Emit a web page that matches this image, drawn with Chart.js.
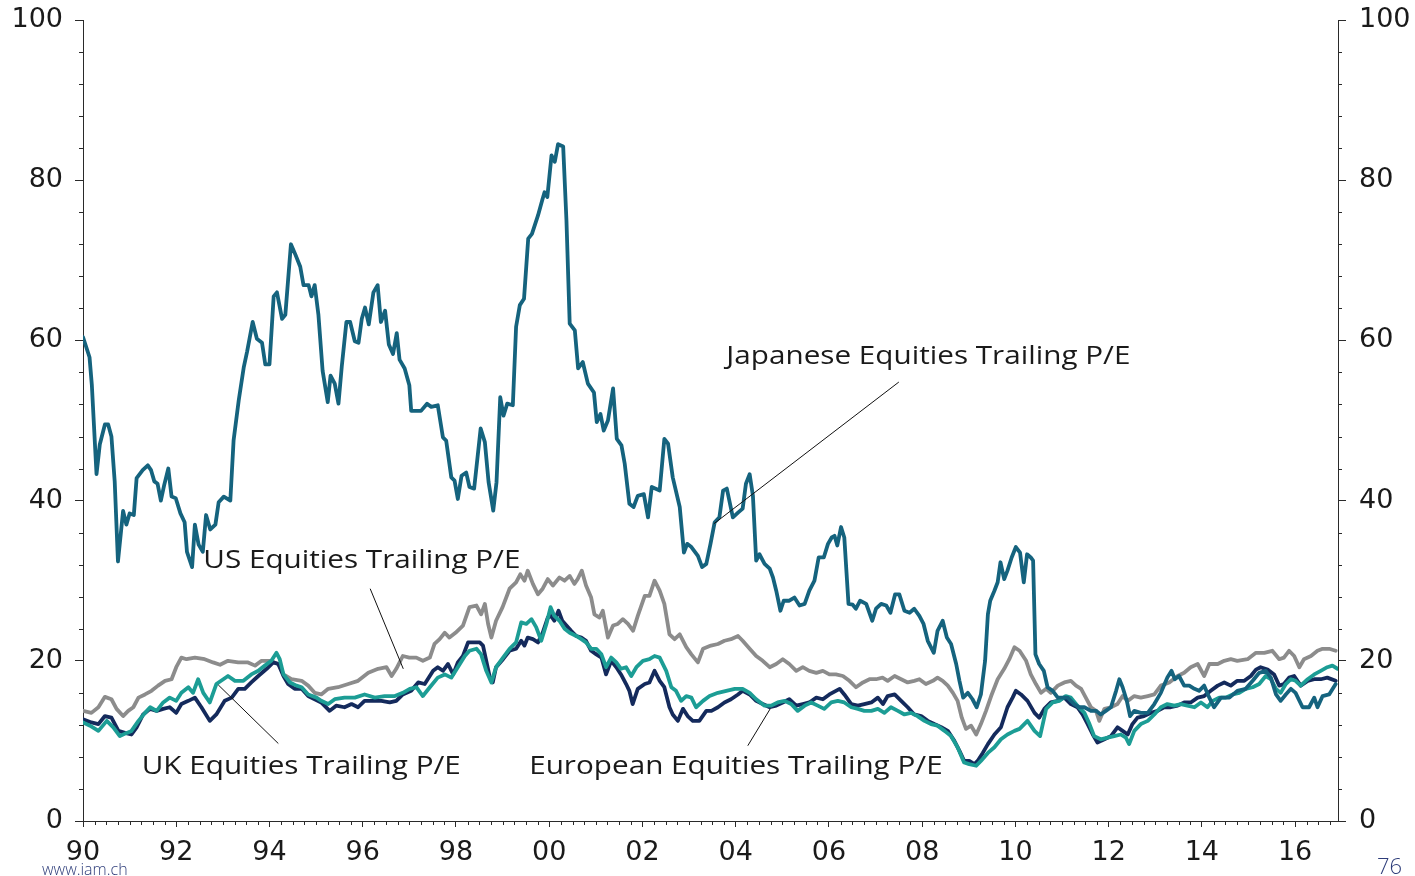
<!DOCTYPE html>
<html><head><meta charset="utf-8">
<script src="https://cdn.jsdelivr.net/npm/chart.js@4.4.1/dist/chart.umd.min.js"></script>
<style>
html,body{margin:0;padding:0;background:#fff;}
#wrap{position:relative;width:1415px;height:876px;overflow:hidden;background:#fff;}
canvas{display:block;}
.foot{position:absolute;font-family:'Open Sans',sans-serif;color:#2e3d7a;white-space:nowrap;}
</style></head><body>
<div id="wrap"><canvas id="c" width="1415" height="876"></canvas>
<div class="foot" style="left:42px;top:858px;font-size:16px;font-weight:300;">www.iam.ch</div>
<div class="foot" style="left:1377px;top:850px;font-size:22px;font-weight:300;">76</div>
</div>
<script>
// ---- data: [year, trailing P/E] ----
const japanPE = [
[1990.00,60.4],[1990.14,57.9],[1990.19,54.4],[1990.29,43.3],[1990.36,47.0],[1990.47,49.5],[1990.54,49.5],[1990.61,48.0],[1990.68,42.4],[1990.75,32.4],
[1990.86,38.7],[1990.93,37.0],[1991.00,38.4],[1991.09,38.2],[1991.15,42.8],[1991.28,43.8],[1991.39,44.4],[1991.46,43.8],[1991.53,42.4],[1991.60,42.1],
[1991.67,40.0],[1991.74,41.9],[1991.83,44.0],[1991.90,40.5],[1991.99,40.3],[1992.09,38.4],[1992.18,37.3],[1992.23,33.6],[1992.34,31.7],[1992.40,37.0],
[1992.48,34.5],[1992.57,33.6],[1992.64,38.2],[1992.73,36.4],[1992.84,37.0],[1992.91,39.8],[1993.02,40.5],[1993.16,40.0],[1993.23,47.5],[1993.34,52.5],
[1993.45,56.7],[1993.52,58.6],[1993.64,62.3],[1993.73,60.2],[1993.84,59.7],[1993.91,57.0],[1994.00,57.0],[1994.09,65.5],[1994.16,66.0],[1994.27,62.7],
[1994.34,63.2],[1994.46,72.0],[1994.55,70.8],[1994.66,69.2],[1994.73,66.9],[1994.84,66.9],[1994.90,65.5],[1994.97,66.9],[1995.05,63.2],[1995.14,56.2],
[1995.25,52.3],[1995.31,55.6],[1995.40,54.6],[1995.48,52.1],[1995.55,56.7],[1995.65,62.3],[1995.73,62.3],[1995.83,59.9],[1995.91,59.7],[1995.98,62.7],
[1996.05,64.1],[1996.13,62.0],[1996.23,66.0],[1996.32,66.9],[1996.39,62.3],[1996.48,63.7],[1996.56,59.5],[1996.65,58.3],[1996.73,60.9],[1996.79,57.6],
[1996.90,56.5],[1997.00,54.4],[1997.04,51.2],[1997.25,51.2],[1997.38,52.1],[1997.47,51.7],[1997.61,51.9],[1997.72,47.9],[1997.79,47.5],[1997.90,42.9],
[1997.97,42.5],[1998.04,40.2],[1998.12,43.1],[1998.22,43.5],[1998.29,41.7],[1998.39,41.5],[1998.53,49.0],[1998.62,47.3],[1998.70,42.3],[1998.80,38.75],
[1998.87,42.3],[1998.95,52.9],[1999.02,50.6],[1999.10,52.1],[1999.22,51.9],[1999.29,61.7],[1999.37,64.4],[1999.46,65.2],[1999.55,72.7],[1999.63,73.3],
[1999.76,75.6],[1999.85,77.5],[1999.90,78.5],[1999.96,77.9],[2000.05,83.1],[2000.12,82.3],[2000.19,84.5],[2000.30,84.2],[2000.37,75.0],[2000.44,62.1],
[2000.55,61.25],[2000.62,56.5],[2000.72,57.3],[2000.83,54.6],[2000.96,53.5],[2001.02,49.8],[2001.10,50.8],[2001.17,48.75],[2001.26,50.0],[2001.37,54.0],
[2001.45,47.7],[2001.55,46.9],[2001.62,44.6],[2001.72,39.6],[2001.81,39.2],[2001.90,40.6],[2002.03,40.8],[2002.12,37.9],[2002.20,41.7],[2002.37,41.25],
[2002.47,47.7],[2002.55,47.1],[2002.65,42.9],[2002.80,39.2],[2002.89,33.5],[2002.96,34.6],[2003.05,34.2],[2003.19,33.1],[2003.28,31.7],[2003.37,32.1],
[2003.46,34.6],[2003.55,37.3],[2003.65,37.9],[2003.73,41.25],[2003.81,41.5],[2003.94,37.9],[2004.05,38.5],[2004.15,39.0],[2004.22,42.1],[2004.30,43.3],
[2004.37,40.6],[2004.44,32.5],[2004.51,33.3],[2004.62,32.1],[2004.73,31.5],[2004.80,30.4],[2004.87,28.75],[2004.96,26.25],[2005.03,27.5],[2005.15,27.5],
[2005.26,27.9],[2005.37,26.9],[2005.48,27.1],[2005.58,28.75],[2005.69,30.0],[2005.78,32.9],[2005.89,32.9],[2005.98,34.6],[2006.06,35.4],[2006.12,35.6],
[2006.18,34.4],[2006.26,36.7],[2006.33,35.4],[2006.42,27.1],[2006.51,27.0],[2006.58,26.5],[2006.67,27.5],[2006.80,27.1],[2006.93,25.0],[2007.01,26.5],
[2007.12,27.1],[2007.23,26.9],[2007.32,26.0],[2007.42,28.3],[2007.51,28.3],[2007.62,26.25],[2007.73,26.0],[2007.83,26.5],[2007.94,25.6],[2008.03,24.6],
[2008.12,22.5],[2008.25,21.0],[2008.33,23.75],[2008.44,25.0],[2008.53,22.9],[2008.62,22.1],[2008.73,19.6],[2008.80,17.5],[2008.88,15.4],[2008.98,16.0],
[2009.08,15.2],[2009.17,14.2],[2009.26,15.8],[2009.35,20.0],[2009.41,25.8],[2009.46,27.5],[2009.55,28.75],[2009.62,29.8],[2009.68,32.3],[2009.76,30.2],
[2009.83,31.25],[2009.92,32.9],[2010.01,34.2],[2010.10,33.5],[2010.18,29.8],[2010.25,33.3],[2010.33,32.9],[2010.38,32.5],[2010.43,20.8],[2010.51,19.6],
[2010.61,18.75],[2010.69,16.7],[2010.80,16.25],[2010.91,15.4],[2011.12,15.4],[2011.26,14.6],[2011.37,14.2],[2011.48,14.2],[2011.62,13.75],[2011.73,13.75],
[2011.83,13.3],[2011.94,13.75],[2012.05,14.2],[2012.16,16.25],[2012.23,17.7],[2012.30,16.7],[2012.39,15.0],[2012.46,13.1],[2012.55,13.75],[2012.69,13.5],
[2012.84,13.5],[2012.98,14.6],[2013.12,16.0],[2013.26,17.9],[2013.35,18.75],[2013.42,17.7],[2013.51,18.1],[2013.62,16.9],[2013.73,16.9],[2013.84,16.5],
[2013.94,16.25],[2014.05,16.9],[2014.16,15.4],[2014.26,14.2],[2014.41,15.4],[2014.59,15.4],[2014.76,16.25],[2014.94,16.5],[2015.09,17.5],[2015.23,18.5],
[2015.37,18.75],[2015.48,17.9],[2015.59,15.8],[2015.69,15.0],[2015.80,15.8],[2015.91,16.5],[2016.01,16.0],[2016.16,14.2],[2016.30,14.2],[2016.41,15.4],
[2016.48,14.2],[2016.59,15.6],[2016.73,15.8],[2016.87,17.1]
];
const usPE = [
[1990.00,13.75],[1990.18,13.5],[1990.33,14.2],[1990.47,15.5],[1990.61,15.2],[1990.72,14.0],[1990.86,13.1],[1990.97,13.75],[1991.08,14.2],[1991.19,15.4],
[1991.33,15.8],[1991.47,16.25],[1991.61,16.9],[1991.76,17.5],[1991.90,17.7],[1992.00,19.2],[1992.11,20.4],[1992.22,20.2],[1992.40,20.4],[1992.61,20.2],
[1992.79,19.8],[1992.94,19.5],[1993.11,20.0],[1993.33,19.8],[1993.54,19.8],[1993.69,19.4],[1993.83,20.0],[1994.01,20.0],[1994.19,19.6],[1994.30,18.3],
[1994.47,17.7],[1994.69,17.5],[1994.83,16.9],[1994.97,16.0],[1995.11,15.8],[1995.26,16.5],[1995.47,16.7],[1995.69,17.1],[1995.90,17.5],[1996.12,18.5],
[1996.33,19.0],[1996.51,19.2],[1996.62,18.1],[1996.72,19.0],[1996.86,20.6],[1997.00,20.4],[1997.15,20.4],[1997.29,20.0],[1997.44,20.4],[1997.54,22.1],
[1997.65,22.7],[1997.76,23.5],[1997.86,22.9],[1997.99,23.5],[1998.15,24.4],[1998.29,26.7],[1998.44,26.9],[1998.54,25.8],[1998.62,27.1],[1998.69,24.6],
[1998.76,22.9],[1998.86,25.0],[1999.00,26.7],[1999.15,29.0],[1999.29,29.8],[1999.38,30.8],[1999.47,30.0],[1999.54,31.25],[1999.65,29.6],[1999.76,28.3],
[1999.86,29.0],[1999.97,30.2],[2000.08,29.4],[2000.22,30.4],[2000.33,30.0],[2000.44,30.6],[2000.54,29.6],[2000.61,30.2],[2000.70,31.25],[2000.79,29.4],
[2000.90,27.9],[2000.97,25.8],[2001.08,25.4],[2001.15,26.25],[2001.26,22.9],[2001.37,24.4],[2001.47,24.6],[2001.58,25.2],[2001.69,24.6],[2001.80,23.75],
[2001.90,25.6],[2002.05,28.1],[2002.15,28.1],[2002.26,30.0],[2002.37,28.75],[2002.47,27.1],[2002.58,23.3],[2002.69,22.7],[2002.80,23.3],[2002.94,21.7],
[2003.05,20.8],[2003.19,19.8],[2003.30,21.5],[2003.47,21.9],[2003.62,22.1],[2003.76,22.5],[2003.90,22.7],[2004.05,23.1],[2004.15,22.5],[2004.30,21.5],
[2004.44,20.6],[2004.58,20.0],[2004.73,19.2],[2004.87,19.6],[2005.01,20.2],[2005.15,19.6],[2005.30,18.75],[2005.44,19.2],[2005.58,18.75],[2005.73,18.5],
[2005.87,18.75],[2006.01,18.3],[2006.15,18.3],[2006.30,18.1],[2006.44,17.5],[2006.58,16.7],[2006.73,17.3],[2006.87,17.7],[2007.01,17.7],[2007.15,17.9],
[2007.26,17.5],[2007.41,18.1],[2007.55,17.7],[2007.69,17.3],[2007.83,17.5],[2007.94,17.7],[2008.08,17.1],[2008.23,17.5],[2008.33,17.9],[2008.44,17.5],
[2008.55,16.9],[2008.66,16.0],[2008.76,15.0],[2008.85,12.9],[2008.94,11.5],[2009.05,11.9],[2009.16,10.8],[2009.26,12.1],[2009.37,13.75],[2009.48,15.6],
[2009.62,17.7],[2009.76,19.0],[2009.87,20.2],[2009.98,21.7],[2010.09,21.25],[2010.23,20.0],[2010.33,18.3],[2010.44,17.1],[2010.55,16.0],[2010.66,16.5],
[2010.76,16.0],[2010.91,16.9],[2011.05,17.3],[2011.19,17.5],[2011.30,16.9],[2011.41,16.5],[2011.51,15.4],[2011.62,14.2],[2011.73,13.75],[2011.80,12.5],
[2011.91,14.0],[2012.05,14.2],[2012.19,14.6],[2012.30,15.6],[2012.41,15.0],[2012.55,15.6],[2012.69,15.4],[2012.84,15.6],[2012.98,15.8],[2013.12,16.9],
[2013.30,17.3],[2013.48,18.1],[2013.62,18.5],[2013.76,19.2],[2013.91,19.6],[2014.05,18.1],[2014.16,19.6],[2014.34,19.6],[2014.48,20.0],[2014.62,20.2],
[2014.76,20.0],[2014.98,20.2],[2015.16,21.0],[2015.34,21.0],[2015.51,21.25],[2015.66,20.2],[2015.76,20.4],[2015.87,21.25],[2015.98,20.6],[2016.09,19.2],
[2016.19,20.2],[2016.34,20.6],[2016.48,21.25],[2016.59,21.5],[2016.73,21.5],[2016.87,21.25]
];
const ukPE = [
[1990.00,12.7],[1990.18,12.3],[1990.33,12.1],[1990.47,13.1],[1990.61,12.9],[1990.76,11.25],[1990.90,11.0],[1991.04,10.8],[1991.15,11.7],[1991.29,13.3],
[1991.44,14.0],[1991.58,13.75],[1991.72,14.0],[1991.86,14.2],[1992.00,13.5],[1992.11,14.6],[1992.26,15.0],[1992.40,15.4],[1992.54,14.2],[1992.72,12.5],
[1992.86,13.3],[1993.04,15.0],[1993.19,15.4],[1993.33,16.5],[1993.47,16.5],[1993.61,17.3],[1993.76,18.1],[1993.94,19.0],[1994.08,19.8],[1994.19,19.6],
[1994.30,18.1],[1994.40,17.1],[1994.54,16.5],[1994.69,16.5],[1994.83,15.6],[1994.97,15.2],[1995.11,14.8],[1995.29,13.75],[1995.43,14.4],[1995.61,14.2],
[1995.76,14.6],[1995.90,14.2],[1996.04,15.0],[1996.22,15.0],[1996.40,15.0],[1996.58,14.8],[1996.72,15.0],[1996.86,15.8],[1997.04,16.25],[1997.19,17.3],
[1997.33,17.1],[1997.51,18.75],[1997.61,19.2],[1997.72,18.75],[1997.83,19.6],[1997.94,18.3],[1998.04,19.8],[1998.15,20.6],[1998.26,22.3],[1998.40,22.3],
[1998.51,22.3],[1998.58,21.9],[1998.65,20.0],[1998.72,18.1],[1998.79,17.3],[1998.86,19.2],[1999.01,20.2],[1999.15,21.25],[1999.29,21.5],[1999.40,22.5],
[1999.47,21.9],[1999.54,22.9],[1999.65,22.7],[1999.76,22.3],[1999.86,23.5],[1999.97,25.4],[2000.04,25.6],[2000.11,25.0],[2000.20,26.25],[2000.28,25.0],
[2000.37,24.4],[2000.47,23.75],[2000.58,23.1],[2000.69,22.9],[2000.79,22.5],[2000.90,21.25],[2001.01,20.8],[2001.12,20.4],[2001.22,18.3],[2001.33,20.0],
[2001.44,19.2],[2001.54,18.3],[2001.65,17.1],[2001.72,16.25],[2001.79,14.6],[2001.90,16.5],[2002.05,17.1],[2002.15,17.3],[2002.26,18.75],[2002.37,17.5],
[2002.47,16.7],[2002.58,14.2],[2002.65,13.3],[2002.76,12.5],[2002.87,14.0],[2002.97,13.1],[2003.08,12.5],[2003.22,12.5],[2003.37,13.75],[2003.48,13.75],
[2003.62,14.2],[2003.76,14.8],[2003.90,15.2],[2004.05,15.8],[2004.15,16.25],[2004.30,15.8],[2004.44,15.0],[2004.58,14.6],[2004.73,14.2],[2004.87,14.4],
[2005.01,14.8],[2005.15,15.2],[2005.30,14.4],[2005.44,14.6],[2005.58,14.8],[2005.73,15.4],[2005.87,15.2],[2006.01,15.8],[2006.15,16.25],[2006.23,16.5],
[2006.33,15.8],[2006.48,14.6],[2006.62,14.4],[2006.76,14.6],[2006.91,14.8],[2007.05,15.4],[2007.16,14.6],[2007.26,15.6],[2007.41,15.8],[2007.55,15.0],
[2007.69,14.2],[2007.83,13.3],[2007.98,13.1],[2008.12,12.5],[2008.26,12.1],[2008.41,11.7],[2008.55,11.25],[2008.69,10.0],[2008.80,8.75],[2008.90,7.5],
[2009.01,7.5],[2009.12,7.1],[2009.19,7.5],[2009.30,8.5],[2009.41,9.6],[2009.55,10.8],[2009.69,11.7],[2009.83,14.2],[2009.94,15.4],[2010.01,16.25],
[2010.12,15.8],[2010.26,15.0],[2010.41,13.5],[2010.51,12.9],[2010.62,14.0],[2010.76,14.8],[2010.91,15.0],[2011.05,15.4],[2011.19,14.6],[2011.33,14.2],
[2011.44,13.3],[2011.55,12.1],[2011.66,10.8],[2011.76,9.8],[2011.91,10.2],[2012.05,10.6],[2012.19,11.7],[2012.30,11.25],[2012.41,10.8],[2012.51,12.1],
[2012.62,12.9],[2012.76,13.1],[2012.91,13.5],[2013.05,13.75],[2013.19,14.2],[2013.33,14.2],[2013.48,14.4],[2013.62,14.8],[2013.76,14.8],[2013.91,15.4],
[2014.05,15.6],[2014.19,16.25],[2014.34,16.9],[2014.48,17.3],[2014.62,16.9],[2014.76,17.5],[2014.91,17.5],[2015.05,18.1],[2015.16,18.9],[2015.26,19.2],
[2015.41,18.9],[2015.55,18.3],[2015.66,16.9],[2015.76,17.1],[2015.87,17.9],[2015.98,18.1],[2016.12,16.9],[2016.27,17.5],[2016.41,17.7],[2016.55,17.7],
[2016.69,17.9],[2016.87,17.5]
];
const europePE = [
[1990.00,12.3],[1990.15,11.9],[1990.33,11.25],[1990.51,12.5],[1990.65,11.7],[1990.79,10.6],[1990.94,11.0],[1991.04,11.25],[1991.19,12.5],[1991.33,13.5],
[1991.44,14.2],[1991.58,13.75],[1991.72,14.8],[1991.86,15.4],[1992.00,15.0],[1992.11,16.0],[1992.26,16.7],[1992.36,16.0],[1992.47,17.7],[1992.58,16.0],
[1992.72,14.8],[1992.86,17.1],[1993.01,17.7],[1993.11,18.1],[1993.26,17.5],[1993.44,17.5],[1993.61,18.3],[1993.76,18.75],[1993.90,19.4],[1994.04,20.0],
[1994.15,21.0],[1994.22,20.2],[1994.30,18.3],[1994.44,17.3],[1994.58,16.9],[1994.69,16.7],[1994.83,15.8],[1995.01,15.4],[1995.11,15.0],[1995.26,14.6],
[1995.40,15.2],[1995.61,15.4],[1995.83,15.4],[1996.04,15.8],[1996.26,15.4],[1996.47,15.6],[1996.69,15.6],[1996.86,16.0],[1997.01,16.5],[1997.15,16.7],
[1997.29,15.6],[1997.44,16.7],[1997.61,17.9],[1997.76,18.3],[1997.90,17.9],[1998.04,19.2],[1998.19,20.6],[1998.29,21.25],[1998.44,21.5],[1998.54,20.8],
[1998.65,18.75],[1998.76,17.3],[1998.86,19.2],[1999.01,20.4],[1999.15,21.5],[1999.29,22.3],[1999.40,24.8],[1999.51,24.6],[1999.62,25.2],[1999.72,24.2],
[1999.83,22.5],[1999.94,24.6],[2000.03,26.7],[2000.11,25.6],[2000.22,25.0],[2000.33,24.0],[2000.44,23.5],[2000.58,23.1],[2000.69,22.7],[2000.79,22.3],
[2000.90,21.5],[2001.01,21.5],[2001.12,20.8],[2001.22,19.2],[2001.33,20.4],[2001.44,19.8],[2001.54,19.0],[2001.65,19.2],[2001.76,18.1],[2001.87,19.2],
[2002.01,20.0],[2002.15,20.2],[2002.26,20.6],[2002.37,20.4],[2002.51,18.75],[2002.62,16.7],[2002.72,16.25],[2002.83,15.0],[2002.94,15.6],[2003.05,15.4],
[2003.15,14.2],[2003.30,15.0],[2003.44,15.6],[2003.62,16.0],[2003.80,16.25],[2003.98,16.5],[2004.15,16.5],[2004.30,16.0],[2004.44,15.2],[2004.62,14.4],
[2004.76,14.4],[2004.90,14.8],[2005.05,15.0],[2005.19,14.6],[2005.33,13.75],[2005.48,14.4],[2005.62,14.8],[2005.76,14.4],[2005.90,14.0],[2006.05,14.8],
[2006.19,15.0],[2006.33,14.8],[2006.48,14.2],[2006.62,14.0],[2006.76,13.75],[2006.91,13.75],[2007.05,14.0],[2007.19,13.5],[2007.33,14.2],[2007.48,13.75],
[2007.62,13.3],[2007.76,13.5],[2007.90,13.1],[2008.05,12.5],[2008.19,12.1],[2008.33,11.9],[2008.48,11.25],[2008.62,10.6],[2008.76,9.2],[2008.90,7.3],
[2009.01,7.1],[2009.16,6.9],[2009.26,7.5],[2009.41,8.5],[2009.55,9.2],[2009.69,10.2],[2009.83,10.8],[2009.98,11.25],[2010.09,11.5],[2010.26,12.5],
[2010.41,11.25],[2010.53,10.6],[2010.66,14.0],[2010.80,14.8],[2010.94,15.0],[2011.08,15.6],[2011.19,15.4],[2011.33,14.4],[2011.48,13.5],[2011.59,12.1],
[2011.69,10.6],[2011.83,10.2],[2011.98,10.4],[2012.12,10.6],[2012.26,10.8],[2012.37,10.4],[2012.44,9.6],[2012.55,11.25],[2012.69,12.1],[2012.84,12.5],
[2012.98,13.3],[2013.12,14.2],[2013.26,14.6],[2013.41,14.4],[2013.55,14.6],[2013.69,14.4],[2013.84,14.2],[2013.98,14.8],[2014.12,14.2],[2014.23,15.0],
[2014.37,15.4],[2014.51,15.4],[2014.66,15.8],[2014.80,16.0],[2014.94,16.5],[2015.09,16.7],[2015.23,17.1],[2015.37,18.1],[2015.48,17.7],[2015.59,16.5],
[2015.69,16.0],[2015.80,17.1],[2015.91,17.7],[2016.01,17.5],[2016.12,16.9],[2016.27,17.7],[2016.41,18.3],[2016.55,18.75],[2016.69,19.2],[2016.80,19.4],
[2016.91,19.0]
];

// ---- axis settings ----
const xMin = 1990, xMax = 2016.92, xMajorStep = 2, xMinorStep = 0.25;
const yMin = 0, yMax = 100, yMajorStep = 20, yMinorStep = 4;

// ---- annotations (data coordinates) ----
const labelTexts = ['Japanese Equities Trailing P/E','US Equities Trailing P/E','UK Equities Trailing P/E','European Equities Trailing P/E'];
const labelAnchors = [[2003.80,57.1],[1992.58,31.6],[1991.26,5.83],[1999.57,5.83]];
const leaderStarts = [[2007.50,54.8],[1996.16,29.0],[1994.19,9.67],[2004.26,9.4]];
const leaderEnds   = [[2003.53,37.1],[1996.87,19.0],[1992.90,17.0],[2004.74,14.0]];

const colors = {japan:'#15637e', us:'#8c8c8c', uk:'#142a5c', europe:'#1c9d95', axis:'#2a2a2a', text:'#1a1a1a'};
const toXY = arr => arr.map(p => ({x:p[0], y:p[1]}));

const minorTicks = {
  id:'minorTicks',
  afterDraw(chart){
    const c = chart.ctx, a = chart.chartArea, xs = chart.scales.x, ys = chart.scales.y;
    c.save(); c.strokeStyle = colors.axis; c.lineWidth = 1; c.beginPath();
    for (let v = yMin; v <= yMax; v += yMinorStep){
      if (v % yMajorStep === 0) continue;
      const py = Math.round(ys.getPixelForValue(v)) + 0.5;
      c.moveTo(a.left-4, py); c.lineTo(a.left, py);
      c.moveTo(a.right, py); c.lineTo(a.right+4, py);
    }
    for (let k = 0; xMin + k*xMinorStep <= xMax; k++){
      const v = xMin + k*xMinorStep;
      if (Math.abs(v % xMajorStep) < 1e-9) continue;
      const px = Math.round(xs.getPixelForValue(v)) + 0.5;
      c.moveTo(px, a.bottom); c.lineTo(px, a.bottom+4);
    }
    c.stroke(); c.restore();
  }
};
const textStretch = 1.187;
const annotations = {
  id:'annotations',
  afterDatasetsDraw(chart){
    const c = chart.ctx, xs = chart.scales.x, ys = chart.scales.y;
    c.save();
    c.strokeStyle = '#111'; c.lineWidth = 1; c.beginPath();
    leaderStarts.forEach((s,i)=>{
      const e = leaderEnds[i];
      c.moveTo(xs.getPixelForValue(s[0]), ys.getPixelForValue(s[1]));
      c.lineTo(xs.getPixelForValue(e[0]), ys.getPixelForValue(e[1]));
    });
    c.stroke();
    c.fillStyle = colors.text; c.font = '25px "Open Sans"'; c.textAlign = 'left'; c.textBaseline = 'alphabetic';
    labelTexts.forEach((t,i)=>{
      const p = labelAnchors[i];
      c.save();
      c.translate(xs.getPixelForValue(p[0]), ys.getPixelForValue(p[1]));
      c.scale(textStretch, 1);
      c.fillText(t, 0, 0);
      c.restore();
    });
    c.restore();
  }
};

const yTickFont = {family:'DejaVu Sans', size:27, lineHeight:0.5};
const xTickFont = {family:'DejaVu Sans', size:27, lineHeight:1.2};
const yAxis = (pos, w) => ({
  type:'linear', position:pos, min:yMin, max:yMax,
  border:{display:true, color:colors.axis, width:1},
  grid:{display:true, drawOnChartArea:false, drawTicks:true, tickLength:8, color:colors.axis, tickColor:colors.axis},
  ticks:{stepSize:yMajorStep, padding:pos==='left'?12:13, color:colors.text, font:yTickFont},
  afterFit(s){ s.width = w; }
});

new Chart(document.getElementById('c'), {
  type:'line',
  data:{datasets:[
    {label:'Japanese Equities Trailing P/E', data:toXY(japanPE), borderColor:colors.japan, borderWidth:3.8},
    {label:'European Equities Trailing P/E', data:toXY(europePE), borderColor:colors.europe, borderWidth:3.8},
    {label:'UK Equities Trailing P/E', data:toXY(ukPE), borderColor:colors.uk, borderWidth:3.8},
    {label:'US Equities Trailing P/E', data:toXY(usPE), borderColor:colors.us, borderWidth:3.8}
  ]},
  options:{
    responsive:false, animation:false, devicePixelRatio:1,
    parsing:false, normalized:true,
    elements:{point:{radius:0}, line:{tension:0, fill:false, borderJoinStyle:'round', borderCapStyle:'round'}},
    layout:{padding:{top:20, left:0, right:0, bottom:0}},
    plugins:{legend:{display:false}, tooltip:{enabled:false}},
    scales:{
      x:{type:'linear', position:'bottom', min:xMin, max:xMax,
         border:{display:true, color:colors.axis, width:1},
         grid:{display:true, drawOnChartArea:false, drawTicks:true, tickLength:6, color:colors.axis, tickColor:colors.axis},
         ticks:{stepSize:xMajorStep, includeBounds:false, autoSkip:false, maxRotation:0, padding:10, color:colors.text, font:xTickFont,
                callback:v => String(Math.round(v) % 100).padStart(2,'0')},
         afterFit(s){ s.height = 55; }},
      y: yAxis('left', 83),
      y2: yAxis('right', 77)
    }
  },
  plugins:[minorTicks, annotations]
});
</script>
</body></html>
